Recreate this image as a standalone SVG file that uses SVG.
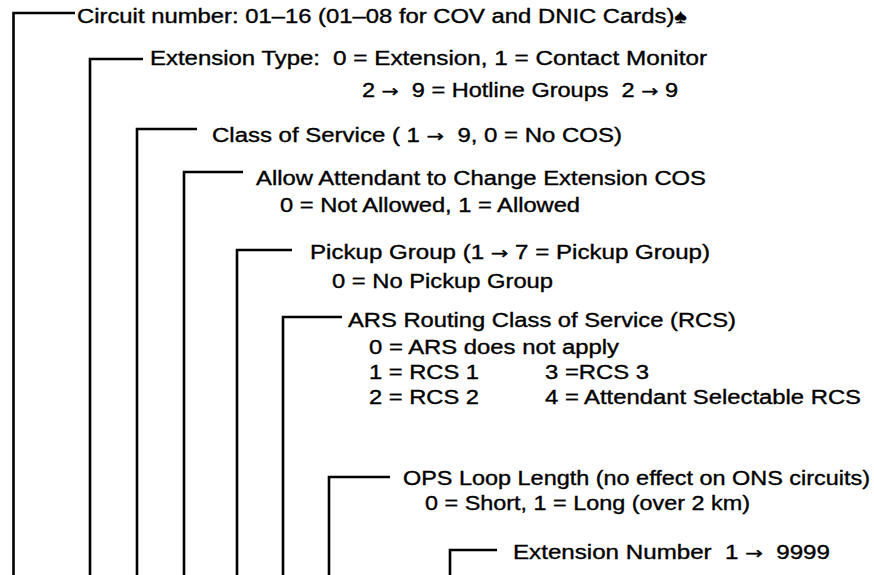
<svg xmlns="http://www.w3.org/2000/svg" width="874" height="575" viewBox="0 0 874 575">
<style>
text{font-family:"Liberation Sans",Arial,"DejaVu Sans",sans-serif;font-size:19.5px;fill:#000;stroke:#000;stroke-width:0.35}
.ar{font-family:"DejaVu Sans",sans-serif;font-size:17px}
.br{fill:none;stroke:#000;stroke-width:2.6;stroke-linejoin:miter;stroke-linecap:butt}
</style>
<rect width="874" height="575" fill="#fff"/>
<g id="connectors">
<path class="br" d="M13.5,575 V13 H75"/>
<path class="br" d="M90,575 V59 H143"/>
<path class="br" d="M137,575 V129 H197"/>
<path class="br" d="M184,575 V172 H243"/>
<path class="br" d="M237,575 V250 H292"/>
<path class="br" d="M283,575 V317 H342"/>
<path class="br" d="M329,575 V477 H390"/>
<path class="br" d="M450,575 V550 H497"/>
</g>
<g id="circuit-number">
<text x="77" y="23" textLength="610" lengthAdjust="spacingAndGlyphs">Circuit number: 01–16 (01–08 for COV and DNIC Cards)♠</text>
</g>
<g id="extension-type">
<text x="150" y="65" textLength="170" lengthAdjust="spacingAndGlyphs">Extension Type:</text>
<text x="333" y="65" textLength="374" lengthAdjust="spacingAndGlyphs">0 = Extension, 1 = Contact Monitor</text>
<text x="362" y="97" textLength="316" lengthAdjust="spacingAndGlyphs" xml:space="preserve">2 <tspan class="ar">→</tspan>  9 = Hotline Groups  2 <tspan class="ar">→</tspan> 9</text>
</g>
<g id="class-of-service">
<text x="212" y="142" textLength="410" lengthAdjust="spacingAndGlyphs" xml:space="preserve">Class of Service ( 1 <tspan class="ar">→</tspan>  9, 0 = No COS)</text>
</g>
<g id="allow-attendant">
<text x="256" y="185" textLength="450" lengthAdjust="spacingAndGlyphs">Allow Attendant to Change Extension COS</text>
<text x="280" y="212" textLength="300" lengthAdjust="spacingAndGlyphs">0 = Not Allowed, 1 = Allowed</text>
</g>
<g id="pickup-group">
<text x="310" y="259" textLength="400" lengthAdjust="spacingAndGlyphs">Pickup Group (1 <tspan class="ar">→</tspan> 7 = Pickup Group)</text>
<text x="332" y="288" textLength="221" lengthAdjust="spacingAndGlyphs">0 = No Pickup Group</text>
</g>
<g id="ars-rcs">
<text x="348" y="327" textLength="388" lengthAdjust="spacingAndGlyphs">ARS Routing Class of Service (RCS)</text>
<text x="369" y="354" textLength="250" lengthAdjust="spacingAndGlyphs">0 = ARS does not apply</text>
<text x="369" y="379" textLength="110" lengthAdjust="spacingAndGlyphs">1 = RCS 1</text>
<text x="545" y="379" textLength="104" lengthAdjust="spacingAndGlyphs">3 =RCS 3</text>
<text x="369" y="404" textLength="110" lengthAdjust="spacingAndGlyphs">2 = RCS 2</text>
<text x="545" y="404" textLength="316" lengthAdjust="spacingAndGlyphs">4 = Attendant Selectable RCS</text>
</g>
<g id="ops-loop-length">
<text x="403" y="485" textLength="467" lengthAdjust="spacingAndGlyphs">OPS Loop Length (no effect on ONS circuits)</text>
<text x="425" y="510" textLength="325" lengthAdjust="spacingAndGlyphs">0 = Short, 1 = Long (over 2 km)</text>
</g>
<g id="extension-number">
<text x="513" y="559" textLength="317" lengthAdjust="spacingAndGlyphs" xml:space="preserve">Extension Number  1 <tspan class="ar">→</tspan>  9999</text>
</g>
</svg>
